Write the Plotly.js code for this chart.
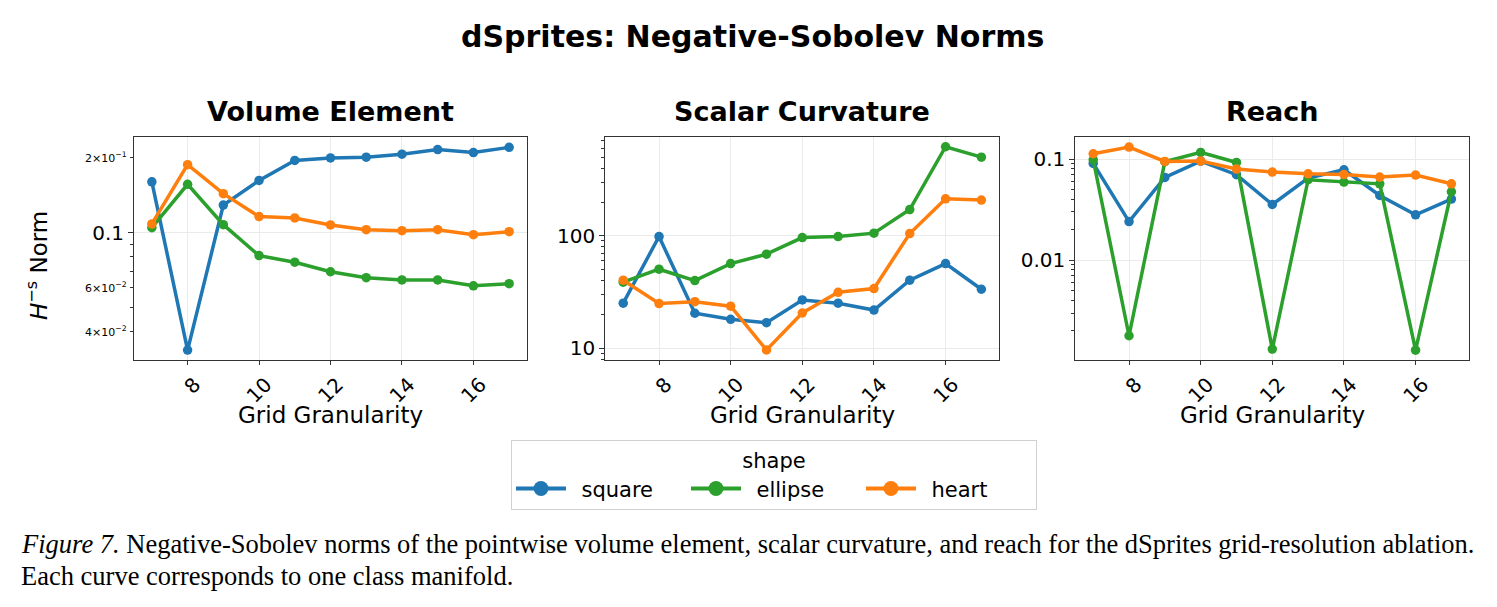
<!DOCTYPE html>
<html>
<head>
<meta charset="utf-8">
<script src="https://cdn.plot.ly/plotly-3.0.1.min.js"></script>
<style>
  html, body { margin: 0; padding: 0; background: #ffffff; }
  #chart { width: 1497px; height: 607px; }
</style>
</head>
<body>
<div id="chart"></div>
<script>
// Grid granularity values on the x axis
const gridSizes = [7, 8, 9, 10, 11, 12, 13, 14, 15, 16, 17];
const xTickVals = [8, 10, 12, 14, 16];

// Shape classes (legend order) and their colours
const shapeNames = ['square', 'ellipse', 'heart'];
const shapeColors = ['#1f77b4', '#2ca02c', '#ff7f0e'];

// Volume element H^-s norms
const volumeSquare  = [0.160, 0.0338, 0.129, 0.162, 0.195, 0.1995, 0.201, 0.2065, 0.2155, 0.2096, 0.220];
const volumeEllipse = [0.1047, 0.1564, 0.1077, 0.0809, 0.0761, 0.0697, 0.0660, 0.0646, 0.0646, 0.0612, 0.0624];
const volumeHeart   = [0.1084, 0.1875, 0.1434, 0.1160, 0.1146, 0.1074, 0.1028, 0.1019, 0.1028, 0.0982, 0.1009];

// Scalar curvature H^-s norms
const curvSquare  = [25.2, 98.6, 20.5, 18.1, 16.9, 26.9, 25.2, 21.9, 40.3, 56.7, 33.5];
const curvEllipse = [38.7, 50.5, 40.0, 56.7, 68.7, 96.6, 98.6, 105.7, 171.4, 620, 501];
const curvHeart   = [40.3, 25.0, 26.0, 23.7, 9.66, 20.6, 31.5, 34.0, 104.8, 213.5, 208];

// Reach H^-s norms
const reachSquare  = [0.0905, 0.0241, 0.0658, 0.0955, 0.0700, 0.0356, 0.0649, 0.0784, 0.0436, 0.0281, 0.0402];
const reachEllipse = [0.0984, 0.00179, 0.0940, 0.1164, 0.0925, 0.00132, 0.0624, 0.0592, 0.0569, 0.00129, 0.0475];
const reachHeart   = [0.1128, 0.1315, 0.0947, 0.0955, 0.0796, 0.0743, 0.0715, 0.0705, 0.0663, 0.0695, 0.0569];

// Panel titles and y tick labelling
const panelTitles = ['Volume Element', 'Scalar Curvature', 'Reach'];
const volumeMajorTicks = [0.1];
const volumeMajorText = ['0.1'];
const volumeMinorTicks = [0.04, 0.05, 0.06, 0.07, 0.08, 0.09, 0.2];
const volumeMinorLabelVals = [0.2, 0.06, 0.04];
const volumeMinorLabelText = ['2\u00d710<sup>\u22121</sup>', '6\u00d710<sup>\u22122</sup>', '4\u00d710<sup>\u22122</sup>'];
const curvMajorTicks = [10, 100];
const curvMajorText = ['10', '100'];
const curvMinorTicks = [8, 9, 20, 30, 40, 50, 60, 70, 80, 90, 200, 300, 400, 500, 600, 700];
const reachMajorTicks = [0.01, 0.1];
const reachMajorText = ['0.01', '0.1'];
const reachMinorTicks = [0.002, 0.003, 0.004, 0.005, 0.006, 0.007, 0.008, 0.009,
                         0.02, 0.03, 0.04, 0.05, 0.06, 0.07, 0.08, 0.09];

const W = 1497, H = 607;
const px = v => v / W;
const py = v => 1 - v / H;

const panels = [
  { series: [volumeSquare, volumeEllipse, volumeHeart], dom: [134, 527], yr: [-1.511, -0.616],
    major: volumeMajorTicks, majorText: volumeMajorText, minor: volumeMinorTicks },
  { series: [curvSquare, curvEllipse, curvHeart], dom: [605.3, 999.3], yr: [0.896, 2.879],
    major: curvMajorTicks, majorText: curvMajorText, minor: curvMinorTicks },
  { series: [reachSquare, reachEllipse, reachHeart], dom: [1075.3, 1469.3], yr: [-2.987, -0.782],
    major: reachMajorTicks, majorText: reachMajorText, minor: reachMinorTicks }
];

const yDomain = [py(360), py(137)];
const traces = [];
const layout = {
  width: W, height: H,
  margin: { l: 0, r: 0, t: 0, b: 0 },
  paper_bgcolor: '#ffffff',
  plot_bgcolor: '#ffffff',
  font: { family: 'DejaVu Sans', color: '#000000' },
  showlegend: true,
  legend: {
    orientation: 'h',
    x: px(511), xanchor: 'left',
    y: py(440), yanchor: 'top',
    bgcolor: '#ffffff',
    bordercolor: '#d0d0d0', borderwidth: 1,
    font: { family: 'DejaVu Sans', size: 21, color: '#000000' },
    title: { text: 'shape', side: 'top center', font: { family: 'DejaVu Sans', size: 21 } },
    itemwidth: 50,
    entrywidth: 110, entrywidthmode: 'pixels'
  },
  annotations: []
};

panels.forEach((p, i) => {
  const n = i + 1;
  const xa = 'x' + (n === 1 ? '' : n);
  const ya = 'y' + (n === 1 ? '' : n);
  const xKey = 'xaxis' + (n === 1 ? '' : n);
  const yKey = 'yaxis' + (n === 1 ? '' : n);

  p.series.forEach((vals, s) => {
    traces.push({
      type: 'scatter', mode: 'lines+markers',
      x: gridSizes, y: vals,
      xaxis: xa, yaxis: ya,
      name: shapeNames[s], legendgroup: shapeNames[s], showlegend: false,
      line: { color: shapeColors[s], width: 3.5 },
      marker: { color: shapeColors[s], size: 9.5 },
      hoverinfo: 'skip'
    });
  });

  layout[xKey] = {
    domain: [px(p.dom[0]), px(p.dom[1])],
    anchor: ya,
    range: [6.5, 17.5],
    tickmode: 'array', tickvals: xTickVals,
    tickangle: -45,
    ticklabelshift: 7,
    tickfont: { family: 'DejaVu Sans', size: 20, color: '#000000' },
    ticks: 'outside', ticklen: 4, tickcolor: '#333333', tickwidth: 1,
    showgrid: true, gridcolor: '#ebebeb', gridwidth: 1,
    showline: true, linecolor: '#333333', linewidth: 1, mirror: true,
    zeroline: false, fixedrange: true
  };
  layout[yKey] = {
    domain: yDomain,
    anchor: xa,
    type: 'log',
    range: p.yr,
    tickmode: 'array', tickvals: p.major, ticktext: p.majorText,
    tickfont: { family: 'DejaVu Sans', size: 20, color: '#000000' },
    ticks: 'outside', ticklen: 5, tickcolor: '#333333', tickwidth: 1,
    minor: { tickvals: p.minor, ticks: 'outside', ticklen: 3, tickcolor: '#333333', tickwidth: 1, showgrid: false },
    showgrid: true, gridcolor: '#ebebeb', gridwidth: 1,
    showline: true, linecolor: '#333333', linewidth: 1, mirror: true,
    zeroline: false, fixedrange: true
  };

  // panel title
  layout.annotations.push({
    text: '<b>' + panelTitles[i] + '</b>',
    xref: 'paper', yref: 'paper',
    x: px((p.dom[0] + p.dom[1]) / 2), y: py(112),
    xanchor: 'center', yanchor: 'middle', showarrow: false,
    font: { family: 'DejaVu Sans', size: 27, color: '#000000' }
  });
  // x axis title
  layout.annotations.push({
    text: 'Grid Granularity',
    xref: 'paper', yref: 'paper',
    x: px((p.dom[0] + p.dom[1]) / 2), y: py(415),
    xanchor: 'center', yanchor: 'middle', showarrow: false,
    font: { family: 'DejaVu Sans', size: 23, color: '#000000' }
  });
});

// small labels on the labelled minor ticks of the volume element panel
volumeMinorLabelVals.forEach((v, k) => {
  layout.annotations.push({
    text: volumeMinorLabelText[k],
    xref: 'x domain', yref: 'y',
    x: 0, y: Math.log10(v),
    xanchor: 'right', yanchor: 'middle', xshift: -5, showarrow: false,
    font: { family: 'DejaVu Sans', size: 11, color: '#000000' }
  });
});

// legend entries with larger handles
shapeNames.forEach((name, s) => {
  traces.push({
    type: 'scatter', mode: 'lines+markers',
    x: [null], y: [null], xaxis: 'x', yaxis: 'y',
    name: '\u2002' + name, legendgroup: name, showlegend: true,
    line: { color: shapeColors[s], width: 4 },
    marker: { color: shapeColors[s], size: 15 },
    hoverinfo: 'skip'
  });
});

// figure title
layout.annotations.push({
  text: '<b>dSprites: Negative-Sobolev Norms</b>',
  xref: 'paper', yref: 'paper', x: px(753), y: py(37),
  xanchor: 'center', yanchor: 'middle', showarrow: false,
  font: { family: 'DejaVu Sans', size: 30, color: '#000000' }
});

// shared y axis title
layout.annotations.push({
  text: '<i>H</i><sup>\u2212s</sup> Norm',
  xref: 'paper', yref: 'paper', x: px(37), y: py(266),
  xanchor: 'center', yanchor: 'middle', textangle: -90, showarrow: false,
  font: { family: 'DejaVu Sans', size: 23, color: '#000000' }
});

// caption
layout.annotations.push({
  text: '<i>Figure 7.</i> Negative-Sobolev norms of the pointwise volume element, scalar curvature, and reach for the dSprites grid-resolution ablation.',
  xref: 'paper', yref: 'paper', x: px(19), y: py(544),
  xanchor: 'left', yanchor: 'middle', showarrow: false,
  font: { family: 'Liberation Serif', size: 26.5, color: '#000000' }
});
layout.annotations.push({
  text: 'Each curve corresponds to one class manifold.',
  xref: 'paper', yref: 'paper', x: px(19), y: py(576),
  xanchor: 'left', yanchor: 'middle', showarrow: false,
  font: { family: 'Liberation Serif', size: 26.5, color: '#000000' }
});

Plotly.newPlot('chart', traces, layout, { staticPlot: true, displayModeBar: false });
</script>
</body>
</html>
